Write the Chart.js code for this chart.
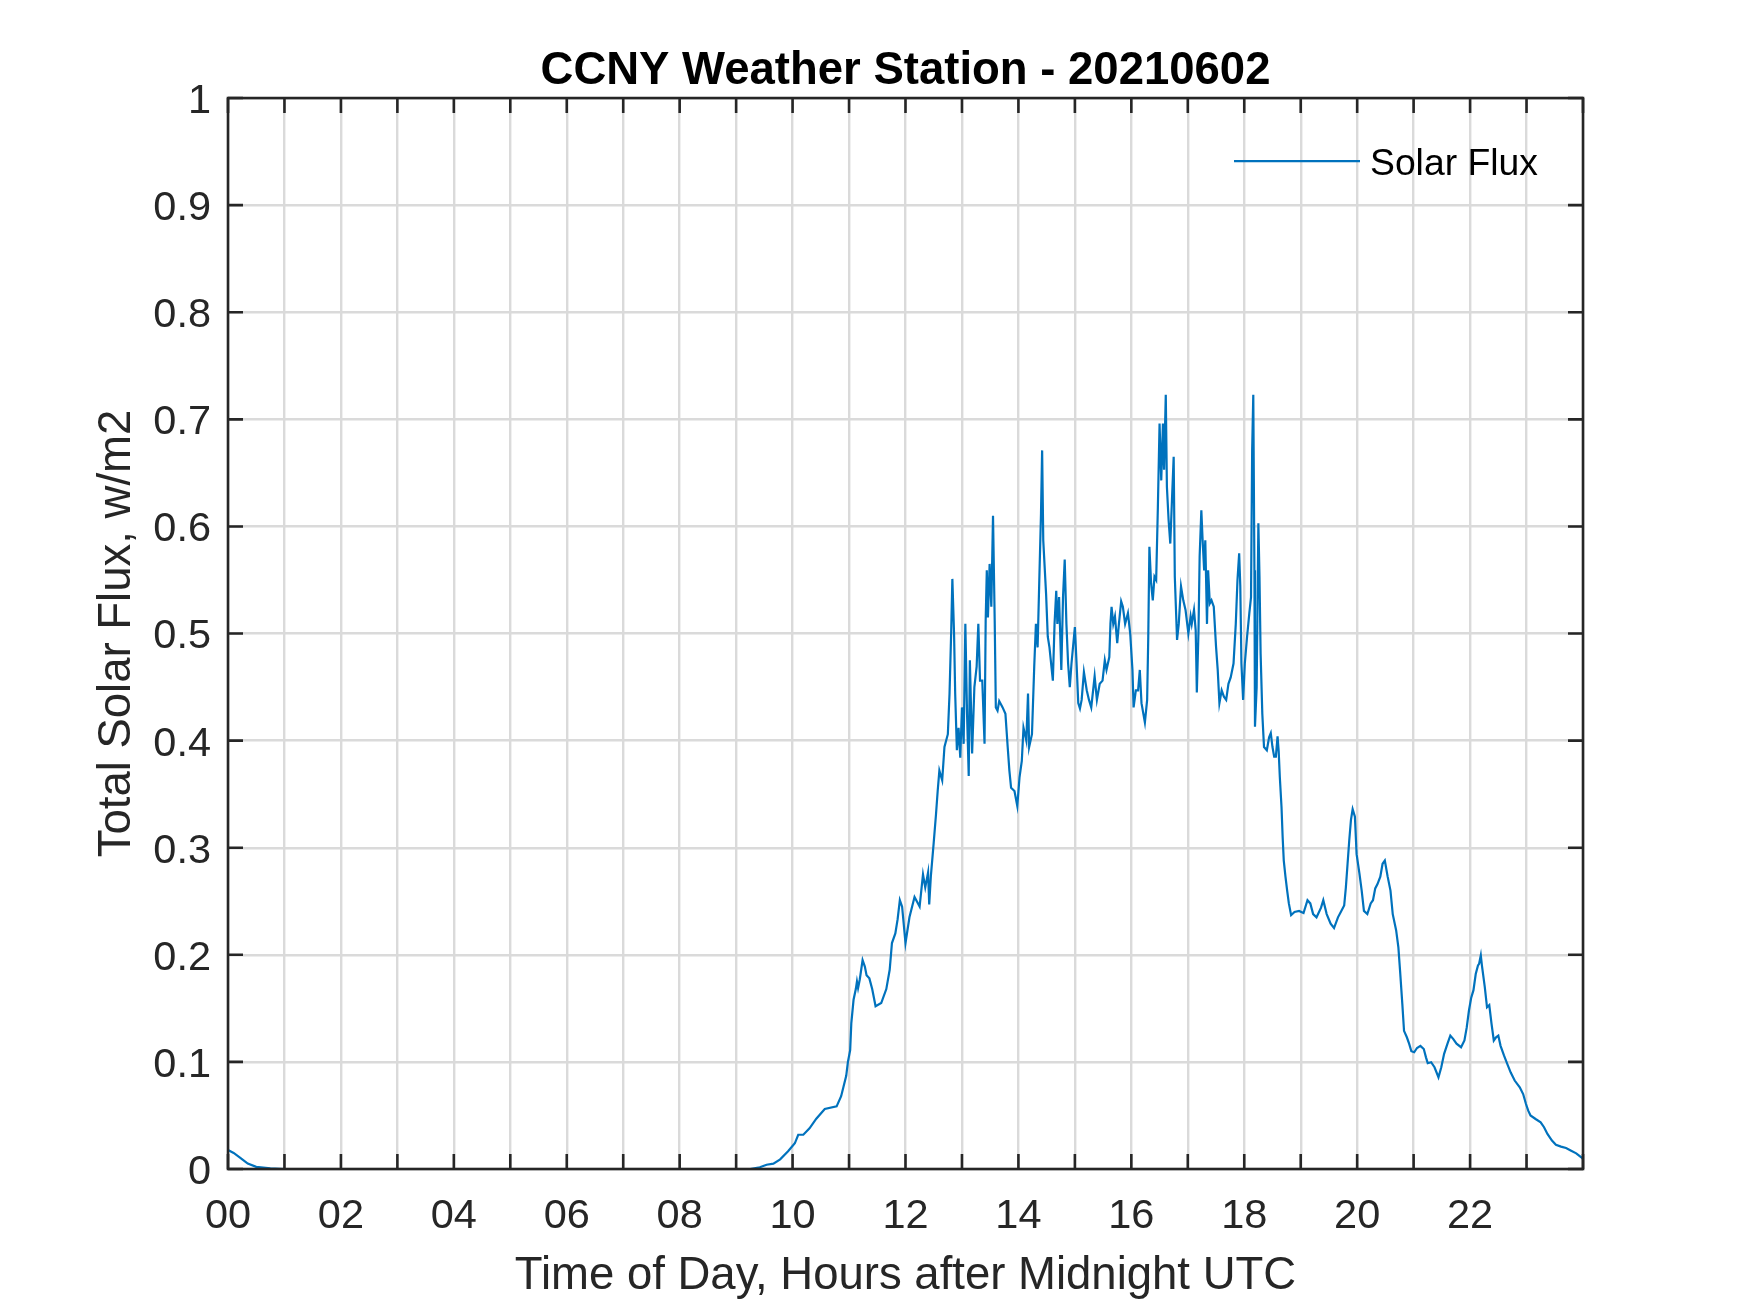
<!DOCTYPE html>
<html>
<head>
<meta charset="utf-8">
<title>CCNY Weather Station - 20210602</title>
<script src="https://cdn.jsdelivr.net/npm/chart.js@4.4.1/dist/chart.umd.min.js"></script>
<style>
    html, body { margin: 0; padding: 0; background: #ffffff; }
    canvas { display: block; }
</style>
</head>
<body>
<canvas id="graficoSolar" width="1750" height="1313"></canvas>
<script>
// Hours after midnight UTC
var hours = [
    0, 0.1, 0.23, 0.35, 0.5, 0.75, 1.0, 9.2,
    9.25, 9.42, 9.54, 9.66, 9.78, 9.92, 10.04, 10.1, 10.19, 10.3, 10.42, 10.57, 10.78, 10.86, 10.95, 10.98,
    11.02, 11.04, 11.08, 11.12, 11.14, 11.16, 11.19, 11.24, 11.28, 11.31, 11.36, 11.41, 11.47, 11.57, 11.66,
    11.72, 11.76, 11.82, 11.86, 11.9, 11.94, 12.0,
    12.07, 12.16, 12.25, 12.31, 12.35, 12.4, 12.42, 12.45, 12.5, 12.54, 12.57, 12.6, 12.65, 12.69, 12.75,
    12.78, 12.81, 12.83, 12.86, 12.88, 12.91, 12.94, 12.97, 13.0, 13.03, 13.06, 13.09, 13.12, 13.14, 13.18,
    13.22, 13.26, 13.29, 13.32, 13.36, 13.4, 13.42, 13.44, 13.46, 13.49, 13.52, 13.55, 13.58, 13.6, 13.63,
    13.66, 13.72, 13.77, 13.81, 13.84, 13.87, 13.93, 13.98, 14.02, 14.06, 14.09, 14.14, 14.17, 14.19, 14.24,
    14.28, 14.31, 14.34, 14.37, 14.4, 14.42, 14.44, 14.49, 14.52, 14.55, 14.61, 14.64, 14.67, 14.69, 14.72,
    14.76, 14.79, 14.82, 14.85, 14.88, 14.91, 14.94, 15.0, 15.03, 15.06, 15.09, 15.12, 15.16, 15.21, 15.25,
    15.29, 15.35, 15.39, 15.44, 15.49, 15.53, 15.56, 15.61, 15.63, 15.65, 15.68, 15.71, 15.75, 15.78, 15.82,
    15.85, 15.89, 15.94, 15.98, 16.02, 16.04, 16.08, 16.12, 16.15, 16.18, 16.24, 16.28, 16.3, 16.32, 16.35,
    16.38, 16.41, 16.44, 16.47, 16.5, 16.53, 16.56, 16.58, 16.61, 16.63, 16.66, 16.69, 16.72, 16.75, 16.77,
    16.81, 16.84, 16.88, 16.92, 16.96,
    17.01, 17.05, 17.07, 17.11, 17.14, 17.15, 17.16, 17.19, 17.21, 17.24, 17.26, 17.29, 17.31, 17.34, 17.36,
    17.39, 17.42, 17.46, 17.5, 17.53, 17.56, 17.6, 17.64, 17.68, 17.72, 17.76, 17.81, 17.85, 17.88, 17.91,
    17.93, 17.95, 17.98, 18.01, 18.05, 18.09, 18.12, 18.14, 18.16, 18.18, 18.19, 18.22, 18.25, 18.27, 18.29,
    18.32, 18.35, 18.4, 18.44, 18.47, 18.5, 18.53,
    18.56, 18.59, 18.61, 18.63, 18.66, 18.68, 18.7, 18.73, 18.76, 18.79, 18.83, 18.89, 18.97, 19.05, 19.12,
    19.17, 19.22, 19.28, 19.36, 19.4, 19.46, 19.53, 19.59, 19.66, 19.71, 19.77, 19.8, 19.83, 19.86, 19.89,
    19.92, 19.96, 19.99, 20.04, 20.08, 20.12, 20.18, 20.24, 20.28, 20.32, 20.36, 20.41, 20.45, 20.49, 20.54,
    20.59, 20.63, 20.69, 20.73, 20.76, 20.8, 20.83, 20.88, 20.92, 20.96, 21.01, 21.06, 21.12, 21.18, 21.22,
    21.25, 21.31, 21.37, 21.44, 21.49, 21.54, 21.6, 21.65, 21.7, 21.76, 21.84, 21.9, 21.94, 21.98, 22.02,
    22.06, 22.1, 22.14, 22.16, 22.19, 22.21, 22.26, 22.3, 22.34, 22.38, 22.42, 22.46, 22.5, 22.54, 22.6,
    22.66, 22.72, 22.79, 22.88, 22.94, 22.99, 23.03, 23.07, 23.16, 23.25, 23.31, 23.37, 23.45, 23.52, 23.61,
    23.7, 23.79, 23.88, 23.97, 24.0
];

// Total solar flux, w/m2
var flux = [
    0.0177, 0.015, 0.010, 0.005, 0.002, 0.0005, 0, 0,
    0, 0.0016, 0.004, 0.005, 0.009, 0.0165, 0.024, 0.032, 0.032, 0.038, 0.047, 0.056, 0.0585, 0.068, 0.087, 0.1,
    0.111, 0.136, 0.158, 0.168, 0.175, 0.169, 0.177, 0.195, 0.189, 0.181, 0.178, 0.168, 0.152, 0.155, 0.168,
    0.186, 0.211, 0.22, 0.233, 0.251, 0.245, 0.211,
    0.235, 0.254, 0.245, 0.275, 0.263, 0.277, 0.247, 0.274, 0.305, 0.331, 0.353, 0.372, 0.363, 0.394, 0.406,
    0.444, 0.503, 0.551, 0.5, 0.444, 0.391, 0.412, 0.384, 0.431, 0.397, 0.509, 0.425, 0.367, 0.475, 0.388,
    0.45, 0.469, 0.509, 0.456, 0.456, 0.397, 0.512, 0.559, 0.515, 0.565, 0.525, 0.61, 0.512, 0.431, 0.428,
    0.437, 0.431, 0.425, 0.394, 0.372, 0.356, 0.353, 0.339, 0.366, 0.381, 0.412, 0.4, 0.444, 0.394, 0.406,
    0.469, 0.509, 0.487, 0.55, 0.612, 0.671, 0.587, 0.537, 0.497, 0.487, 0.456, 0.509, 0.54, 0.509, 0.534,
    0.466, 0.534, 0.569, 0.509, 0.472, 0.45, 0.472, 0.506, 0.472, 0.435, 0.43, 0.438, 0.464, 0.447, 0.438,
    0.431, 0.46, 0.438, 0.453, 0.456, 0.475, 0.466, 0.478, 0.509, 0.525, 0.509, 0.516, 0.491, 0.509, 0.53,
    0.525, 0.509, 0.519, 0.5, 0.466, 0.431, 0.447, 0.447, 0.466, 0.435, 0.417, 0.438, 0.497, 0.581, 0.547,
    0.531, 0.553, 0.55, 0.618, 0.696, 0.643, 0.696, 0.653, 0.723, 0.637, 0.606, 0.584, 0.625, 0.665, 0.553,
    0.494, 0.509, 0.544, 0.531, 0.522,
    0.5, 0.516, 0.509, 0.522, 0.503, 0.475, 0.445, 0.503, 0.572, 0.615, 0.59, 0.559, 0.587, 0.509, 0.559,
    0.528, 0.531, 0.525, 0.488, 0.466, 0.435, 0.447, 0.441, 0.438, 0.453, 0.459, 0.472, 0.509, 0.55, 0.575,
    0.544, 0.472, 0.438, 0.472, 0.497, 0.519, 0.534, 0.671, 0.723, 0.559, 0.413, 0.45, 0.603, 0.553, 0.481,
    0.425, 0.394, 0.391, 0.403, 0.407, 0.394, 0.385,
    0.385, 0.404, 0.39, 0.366, 0.338, 0.31, 0.288, 0.273, 0.26, 0.248, 0.237, 0.24, 0.241, 0.239, 0.251,
    0.248, 0.238, 0.235, 0.244, 0.251, 0.238, 0.229, 0.225, 0.235, 0.24, 0.246, 0.263, 0.285, 0.307, 0.326,
    0.336, 0.329, 0.294, 0.276, 0.26, 0.241, 0.238, 0.248, 0.251, 0.262, 0.266, 0.273, 0.285, 0.288, 0.273,
    0.26, 0.238, 0.223, 0.207, 0.185, 0.154, 0.129, 0.123, 0.117, 0.11, 0.109, 0.113, 0.115, 0.112, 0.104,
    0.0988, 0.0997, 0.095, 0.0857, 0.095, 0.1075, 0.117, 0.1246, 0.1215, 0.117, 0.1137, 0.12, 0.132, 0.148, 0.16,
    0.167, 0.182, 0.19, 0.1916, 0.1994, 0.19, 0.17, 0.151, 0.153, 0.1355, 0.12, 0.123, 0.1246, 0.115, 0.106,
    0.098, 0.09, 0.0826, 0.0763, 0.07, 0.0607, 0.0545, 0.05, 0.0467, 0.0436, 0.039, 0.0327, 0.0265, 0.0227, 0.0209,
    0.0196, 0.0171, 0.0146, 0.0109, 0.0093
];

var xTickLabels = ['00', '02', '04', '06', '08', '10', '12', '14', '16', '18', '20', '22'];
var yTickLabels = ['0', '0.1', '0.2', '0.3', '0.4', '0.5', '0.6', '0.7', '0.8', '0.9', '1'];

var puntos = hours.map(function (h, i) {
    return { x: h, y: flux[i] };
});

var fuente = "'Liberation Sans', Arial, Helvetica, sans-serif";
var colorEjes = '#262626';

// box, inward ticks on all four sides and the legend, MATLAB style
var marcoMatlab = {
    id: 'marcoMatlab',
    afterDatasetsDraw: function (chart) {
        var ctx = chart.ctx;
        var area = chart.chartArea;
        var xScale = chart.scales.x;
        var yScale = chart.scales.y;
        var largo = 15;

        ctx.save();
        ctx.strokeStyle = colorEjes;
        ctx.lineWidth = 2.6;
        ctx.beginPath();
        xScale.ticks.forEach(function (t) {
            var px = xScale.getPixelForValue(t.value);
            ctx.moveTo(px, area.bottom);
            ctx.lineTo(px, area.bottom - largo);
            ctx.moveTo(px, area.top);
            ctx.lineTo(px, area.top + largo);
        });
        yScale.ticks.forEach(function (t) {
            var py = yScale.getPixelForValue(t.value);
            ctx.moveTo(area.left, py);
            ctx.lineTo(area.left + largo, py);
            ctx.moveTo(area.right, py);
            ctx.lineTo(area.right - largo, py);
        });
        ctx.stroke();
        ctx.strokeRect(area.left, area.top, area.right - area.left, area.bottom - area.top);

        // legend
        var ds = chart.data.datasets[0];
        ctx.strokeStyle = ds.borderColor;
        ctx.lineWidth = ds.borderWidth;
        ctx.beginPath();
        ctx.moveTo(area.right - 349, area.top + 63);
        ctx.lineTo(area.right - 223, area.top + 63);
        ctx.stroke();
        ctx.fillStyle = '#000000';
        ctx.font = '37.3px ' + fuente;
        ctx.textAlign = 'left';
        ctx.textBaseline = 'alphabetic';
        ctx.fillText(ds.label, area.right - 213, area.top + 77.3);
        ctx.restore();
    }
};

var ctx = document.getElementById('graficoSolar').getContext('2d');
var grafico = new Chart(ctx, {
    type: 'line',
    data: {
        datasets: [{
            label: 'Solar Flux',
            data: puntos,
            borderColor: '#0072BD',
            borderWidth: 2.2,
            pointRadius: 0,
            fill: false,
            tension: 0
        }]
    },
    options: {
        responsive: false,
        devicePixelRatio: 1,
        animation: false,
        layout: {
            padding: { left: 0, right: 167, top: 0, bottom: 0 }
        },
        plugins: {
            legend: { display: false },
            tooltip: { enabled: false },
            title: {
                display: true,
                text: 'CCNY Weather Station - 20210602',
                fullSize: false,
                color: '#000000',
                font: { family: fuente, size: 45.5, weight: 'bold', lineHeight: 1.1 },
                padding: { top: 46.8, bottom: 1.2 }
            }
        },
        scales: {
            x: {
                type: 'linear',
                min: 0,
                max: 24,
                afterFit: function (scale) {
                    scale.height = 144;
                },
                ticks: {
                    stepSize: 1,
                    autoSkip: false,
                    maxRotation: 0,
                    padding: 23,
                    color: colorEjes,
                    font: { family: fuente, size: 41.5 },
                    callback: function (value) {
                        if (value % 2 === 0 && value < 24) {
                            return xTickLabels[value / 2];
                        }
                        return '';
                    }
                },
                grid: {
                    color: '#dadada',
                    lineWidth: 2.4,
                    drawTicks: false
                },
                border: { display: false },
                title: {
                    display: true,
                    text: 'Time of Day, Hours after Midnight UTC',
                    color: colorEjes,
                    font: { family: fuente, size: 45.5 },
                    padding: { top: 0, bottom: 9 }
                }
            },
            y: {
                min: 0,
                max: 1,
                afterFit: function (scale) {
                    scale.width = 228;
                },
                ticks: {
                    stepSize: 0.1,
                    padding: 17,
                    labelOffset: 3.5,
                    color: colorEjes,
                    font: { family: fuente, size: 41.5 },
                    callback: function (value, index) {
                        return yTickLabels[index];
                    }
                },
                grid: {
                    color: '#dadada',
                    lineWidth: 2.4,
                    drawTicks: false
                },
                border: { display: false },
                title: {
                    display: true,
                    text: 'Total Solar Flux, w/m2',
                    color: colorEjes,
                    font: { family: fuente, size: 45.5 },
                    padding: { top: 90.5, bottom: 0 }
                }
            }
        }
    },
    plugins: [marcoMatlab]
});
</script>
</body>
</html>
